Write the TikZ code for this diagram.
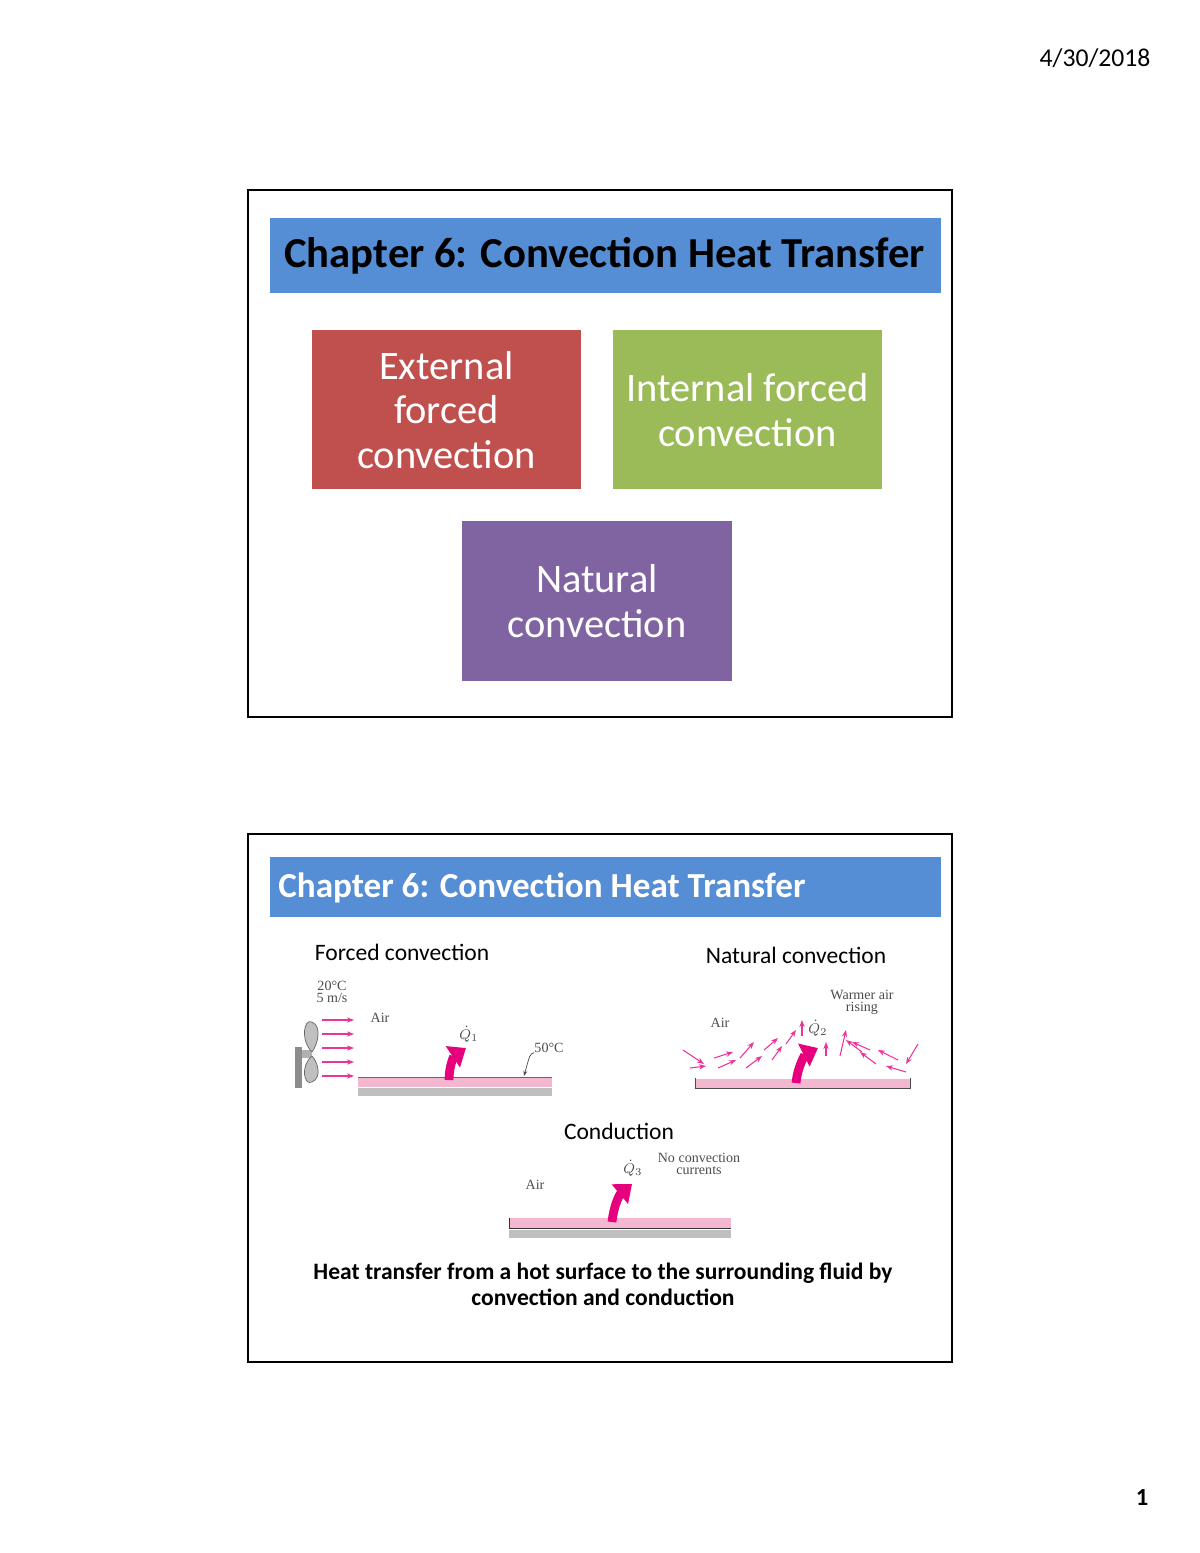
\documentclass[tikz,border=0pt]{standalone}
\usepackage{fontspec}
\setmainfont{Carlito}
\newfontfamily\figfont{Liberation Serif}
\usetikzlibrary{arrows.meta}
\definecolor{hdrblue}{RGB}{85,142,213}
\definecolor{extred}{RGB}{192,80,77}
\definecolor{intgreen}{RGB}{155,187,89}
\definecolor{natpurple}{RGB}{128,100,162}
\definecolor{plate}{RGB}{244,183,208}
\definecolor{qpink}{RGB}{230,0,126}
\newcommand{\fsz}[1]{\fontsize{#1}{1.1\dimexpr#1\relax}\selectfont}
\begin{document}
\begin{tikzpicture}[x=0.02cm,y=-0.02cm,
    frame/.style ={draw, line width=1.2pt},
    header/.style ={fill=hdrblue, inner sep=0pt},
    topic/.style ={text=white, align=center, inner sep=0pt, font=\fsz{23pt}},
    label/.style ={font=\fsz{13.4pt}, inner sep=0pt},
    small/.style ={font=\figfont\fsz{8pt}, text=black!70, inner sep=0pt, align=center},
    flow/.style ={qpink!80, line width=0.6pt, -{Stealth[length=4pt]}},
    heat/.style ={qpink, line width=5pt, -{Triangle[length=9pt,width=14pt]}}]
   \useasboundingbox (0,0) rectangle (1200,1553);
   \node[font=\fsz{14.6pt}] (date) at (1095,58) {4/30/2018};
   \node[font=\bfseries\fsz{14pt}] (page) at (1142,1497) {1};
   % first slide
   \draw[frame] (248,190) rectangle (952,717);
   \fill[header] (270,218) rectangle (941,293);
   \node[font=\bfseries\fsz{24.3pt}, anchor=west, inner sep=0pt] (title1) at (284,256) {Chapter 6: Convection Heat Transfer};
   \fill[extred] (312,330) rectangle (581,489);
   \fill[intgreen] (613,330) rectangle (882,489);
   \fill[natpurple] (462,521) rectangle (732,681);
   \node[topic] (ext) at (446.5,410) {External\\forced\\convection};
   \node[topic] (int) at (747.5,410) {Internal forced\\convection};
   \node[topic] (nat) at (597,601) {Natural\\convection};
   % second slide
   \draw[frame] (248,834) rectangle (952,1362);
   \fill[header] (270,857) rectangle (941,917);
   \node[font=\bfseries\fsz{20pt}, text=white, anchor=west, inner sep=0pt] (title2) at (278,888) {Chapter 6: Convection Heat Transfer};
   \node[label] (forced) at (402,952) {Forced convection};
   \node[label] (natural) at (796,955) {Natural convection};
   \node[label] (cond) at (619,1131) {Conduction};
   \node[font=\bfseries\fsz{13.4pt}, align=center] (caption) at (603,1284)
      {Heat transfer from a hot surface to the surrounding fluid by\\convection and conduction};
   % forced convection sketch
   \fill[black!45] (295,1047) rectangle (302,1088);
   \fill[black!30] (302,1050) rectangle (312,1058);
   \draw[black!60, fill=black!25] (312,1052) .. controls (300,1040) and (304,1018) .. (312,1022) .. controls (322,1026) and (318,1044) .. (312,1052);
   \draw[black!60, fill=black!25] (312,1056) .. controls (300,1066) and (304,1086) .. (312,1082) .. controls (322,1078) and (318,1062) .. (312,1056);
   \foreach \y in {1020,1034,1048,1062,1076}
      \draw[flow] (322,\y) -- (354,\y);
   \node[small] (fc20) at (332,992) {20°C\\[-2pt]5 m/s};
   \node[small] (fcair) at (380,1018) {Air};
   \fill[plate] (358,1077) rectangle (552,1087);
   \draw[black!60] (358,1077) -- (552,1077);
   \fill[black!25] (358,1088) rectangle (552,1096);
   \draw[heat] (449,1080) .. controls (449,1066) and (454,1056) .. (466,1048);
   \node[small] (q1) at (469,1034) {$\dot{Q}_1$};
   \node[small] (t50) at (549,1048) {50°C};
   \coordinate (t50e) at (524,1076);
   \draw[black!70, -{Stealth[length=3pt]}] (t50) .. controls (530,1054) .. (t50e);
   % natural convection sketch
   \fill[plate] (695,1079) rectangle (910,1088);
   \draw[black!70] (695,1078) -- (695,1088) -- (910,1088) -- (910,1078);
   \draw[heat] (796,1083) .. controls (798,1064) and (806,1054) .. (818,1048);
   \node[small] (q2) at (818,1028) {$\dot{Q}_2$};
   \node[small] (nair) at (720,1023) {Air};
   \node[small] (warm) at (862,1002) {Warmer air\\[-2pt]rising};
   \foreach \a/\b/\c/\d in {683/1050/704/1064, 690/1068/706/1066, 718/1068/736/1060, 714/1058/733/1052,
      740/1058/754/1042, 746/1068/762/1056, 764/1050/778/1038, 772/1060/782/1046, 786/1044/796/1030,
      802/1036/802/1020, 826/1056/826/1042, 840/1056/846/1030, 862/1052/846/1040,
      876/1064/860/1052, 870/1050/852/1042, 898/1060/878/1050, 906/1072/886/1066, 918/1044/906/1064}
      \draw[flow] (\a,\b) -- (\c,\d);
   % conduction sketch
   \fill[plate] (509,1218) rectangle (731,1228);
   \draw[black!80] (509,1218) -- (509,1228) -- (731,1228);
   \fill[black!25] (509,1230) rectangle (731,1238);
   \draw[heat] (612,1222) .. controls (614,1204) and (620,1194) .. (632,1184);
   \node[small] (q3) at (633,1168) {$\dot{Q}_3$};
   \node[small] (cair) at (535,1185) {Air};
   \node[small] (nocc) at (699,1164) {No convection\\[-2pt]currents};
\end{tikzpicture}
\end{document}
